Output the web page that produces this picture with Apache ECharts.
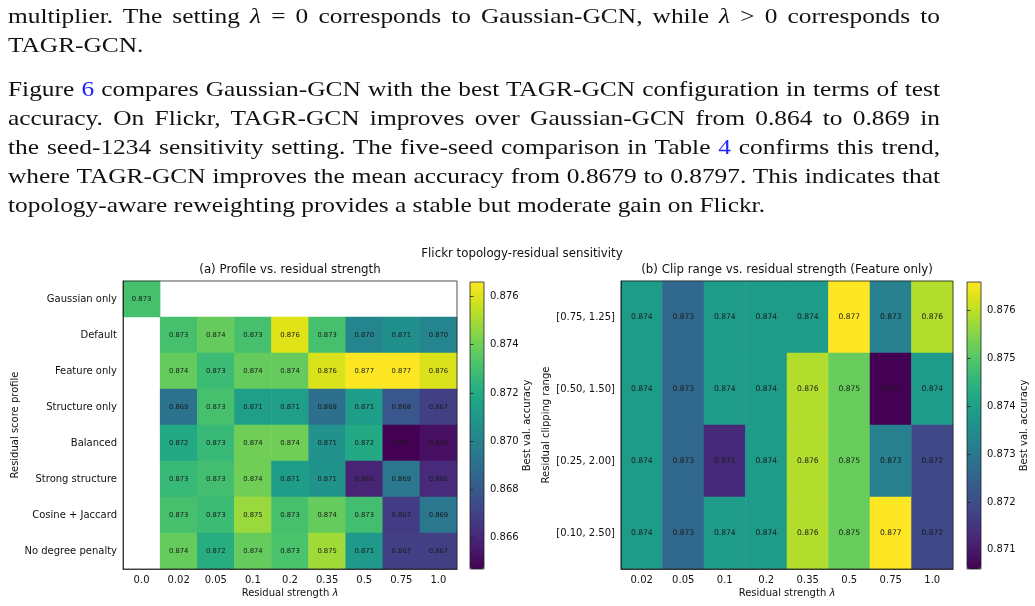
<!DOCTYPE html>
<html>
<head>
<meta charset="utf-8">
<script src="https://cdn.jsdelivr.net/npm/echarts@6/dist/echarts.min.js"></script>
<style>
  html, body { margin: 0; padding: 0; background: #fff; }
  #chart { position: absolute; left: 0; top: 0; width: 1035px; height: 606px; }
  #text { position: absolute; left: 8px; top: 0; width: 932px; z-index: 2;
          font-family: "Liberation Serif", serif; font-size: 21.5px; color: #111; }
  #text .ln { position: absolute; left: 0; width: 932px; height: 29px; line-height: 29px;
              white-space: nowrap; transform-origin: 0 0; }
  #text .j { text-align: justify; text-align-last: justify; white-space: normal; }
  #text .ref { color: #2222ff; }
</style>
</head>
<body>
<div id="chart"></div>
<div id="text">
  <div class="ln j" style="top:1.5px">multiplier. The setting <i>λ</i> = 0 corresponds to Gaussian-GCN, while <i>λ</i> &gt; 0 corresponds to</div>
  <div class="ln" style="top:30.5px">TAGR-GCN.</div>
  <div class="ln j" style="top:74.5px">Figure <span class="ref">6</span> compares Gaussian-GCN with the best TAGR-GCN configuration in terms of test</div>
  <div class="ln j" style="top:103.5px">accuracy. On Flickr, TAGR-GCN improves over Gaussian-GCN from 0.864 to 0.869 in</div>
  <div class="ln j" style="top:132.5px">the seed-1234 sensitivity setting. The five-seed comparison in Table <span class="ref">4</span> confirms this trend,</div>
  <div class="ln j" style="top:161.5px">where TAGR-GCN improves the mean accuracy from 0.8679 to 0.8797. This indicates that</div>
  <div class="ln" id="last" style="top:190.5px">topology-aware reweighting provides a stable but moderate gain on Flickr.</div>
</div>
<script>
/* 数据: 残差强度 λ 与各评分方案 */
var lambdas = ['0.0', '0.02', '0.05', '0.1', '0.2', '0.35', '0.5', '0.75', '1.0'];
var profiles = ['Gaussian only', 'Default', 'Feature only', 'Structure only', 'Balanced',
                'Strong structure', 'Cosine + Jaccard', 'No degree penalty'];
var profileAcc = [
    [0.8731, null, null, null, null, null, null, null, null],
    [null, 0.8731, 0.8738, 0.8731, 0.8760, 0.8731, 0.8701, 0.8706, 0.8701],
    [null, 0.8738, 0.8728, 0.8738, 0.8738, 0.8759, 0.8766, 0.8766, 0.8759],
    [null, 0.8692, 0.8731, 0.8714, 0.8714, 0.8690, 0.8713, 0.8679, 0.8669],
    [null, 0.8719, 0.8727, 0.8740, 0.8740, 0.8707, 0.8719, 0.8647, 0.8652],
    [null, 0.8727, 0.8730, 0.8740, 0.8713, 0.8708, 0.8659, 0.8694, 0.8661],
    [null, 0.8731, 0.8728, 0.8748, 0.8731, 0.8738, 0.8730, 0.8668, 0.8694],
    [null, 0.8738, 0.8721, 0.8738, 0.8732, 0.8749, 0.8711, 0.8669, 0.8669]
];
var clipLambdas = ['0.02', '0.05', '0.1', '0.2', '0.35', '0.5', '0.75', '1.0'];
var clipRanges = ['[0.75, 1.25]', '[0.50, 1.50]', '[0.25, 2.00]', '[0.10, 2.50]'];
var clipAcc = [
    [0.8739, 0.8726, 0.8739, 0.8739, 0.8739, 0.8766, 0.8732, 0.8759],
    [0.8739, 0.8726, 0.8739, 0.8739, 0.8759, 0.8752, 0.8706, 0.8739],
    [0.8739, 0.8726, 0.8713, 0.8739, 0.8759, 0.8752, 0.8732, 0.8719],
    [0.8739, 0.8726, 0.8739, 0.8739, 0.8759, 0.8752, 0.8766, 0.8719]
];
var rangeA = [0.8647, 0.8766];
var rangeB = [0.8706, 0.8766];
var ticksA = [0.866, 0.868, 0.870, 0.872, 0.874, 0.876];
var ticksB = [0.871, 0.872, 0.873, 0.874, 0.875, 0.876];

var viridis = ['#440154', '#471365', '#482475', '#463480', '#414487', '#3b528b', '#355f8d',
    '#2f6c8e', '#2a788e', '#25848e', '#21918c', '#1e9c89', '#22a884', '#2fb47c', '#44bf70',
    '#5ec962', '#7ad151', '#9bd93c', '#bddf26', '#dfe318', '#fde725'];

var toCells = function (rows) {
    var out = [];
    rows.forEach(function (row, i) {
        row.forEach(function (v, j) {
            if (v !== null) out.push([j, i, v]);
        });
    });
    return out;
};

// 正文字体比参考图窄: 按最后一行 (约 757px) 横向拉伸
(function () {
    var last = document.getElementById('last');
    var r = document.createRange();
    r.selectNodeContents(last);
    var w = r.getBoundingClientRect().width;
    var s = 757 / w;
    var lines = document.querySelectorAll('#text .ln');
    for (var i = 0; i < lines.length; i++) {
        lines[i].style.width = (932 / s).toFixed(2) + 'px';
        lines[i].style.transform = 'scaleX(' + s.toFixed(4) + ')';
    }
})();

var font = 'DejaVu Sans';
var ink = '#111';
var tickStyle = { fontFamily: font, fontSize: 10, color: ink };
var titleStyle = { fontFamily: font, fontSize: 11.8, fontWeight: 'normal', color: ink };

var catX = function (gi, data, nameGap) {
    return {
        type: 'category', gridIndex: gi, data: data, z: 5,
        axisLine: { lineStyle: { color: '#222', width: 0.8 } },
        axisTick: { alignWithLabel: true, length: 3.5, lineStyle: { color: '#222', width: 0.8 } },
        axisLabel: Object.assign({ margin: 6, interval: 0 }, tickStyle),
        splitLine: { show: false },
        name: 'Residual strength {i|λ}', nameLocation: 'middle', nameGap: nameGap,
        nameTextStyle: { fontFamily: font, fontSize: 10, color: ink,
            rich: { i: { fontFamily: font, fontSize: 10, color: ink, fontStyle: 'italic' } } }
    };
};
var catY = function (gi, data, name, nameGap) {
    return {
        type: 'category', gridIndex: gi, data: data, inverse: true, z: 5,
        axisLine: { lineStyle: { color: '#222', width: 0.8 } },
        axisTick: { alignWithLabel: true, length: 3.5, lineStyle: { color: '#222', width: 0.8 } },
        axisLabel: Object.assign({ margin: 6, interval: 0 }, tickStyle),
        splitLine: { show: false },
        name: name, nameLocation: 'middle', nameGap: nameGap,
        nameTextStyle: { fontFamily: font, fontSize: 10, color: ink }
    };
};
var barY = function (gi, range, ticks) {
    return {
        type: 'value', gridIndex: gi, position: 'right', min: range[0], max: range[1], z: 6,
        axisLine: { show: false },
        axisTick: { show: true, length: 3.5, customValues: ticks, lineStyle: { color: '#222', width: 0.8 } },
        axisLabel: Object.assign({ margin: 6, customValues: ticks,
            formatter: function (v) { return v.toFixed(3); } }, tickStyle),
        splitLine: { show: false },
        name: 'Best val. accuracy', nameLocation: 'middle', nameGap: 38,
        nameTextStyle: { fontFamily: font, fontSize: 10, color: ink }
    };
};
var gridBox = function (l, t, w, h) {
    return { left: l, top: t, width: w, height: h, show: true, z: 5,
             backgroundColor: 'transparent', borderColor: '#222', borderWidth: 0.8 };
};
var cellSeries = function (idx, data, fs) {
    return {
        type: 'heatmap', xAxisIndex: idx, yAxisIndex: idx, data: data,
        label: { show: true, fontFamily: font, fontSize: fs, color: '#1a1a1a',
            formatter: function (p) { return p.value[2].toFixed(3); } },
        emphasis: { disabled: true },
        itemStyle: { borderWidth: 0 }
    };
};

var myChart = echarts.init(document.getElementById('chart'));
var option = {
    animation: false,
    backgroundColor: 'transparent',
    title: [
        { text: 'Flickr topology-residual sensitivity', left: 522, top: 248, textAlign: 'center', padding: 0,
          textStyle: titleStyle },
        { text: '(a) Profile vs. residual strength', left: 290, top: 264, textAlign: 'center', padding: 0,
          textStyle: titleStyle },
        { text: '(b) Clip range vs. residual strength (Feature only)', left: 787, top: 264, textAlign: 'center', padding: 0,
          textStyle: titleStyle }
    ],
    grid: [
        gridBox(123, 281, 334, 288),
        gridBox(621, 281, 332, 288),
        gridBox(470, 282, 14, 287),
        gridBox(967, 282, 14, 287)
    ],
    xAxis: [
        catX(0, lambdas, 19),
        catX(1, clipLambdas, 19),
        { type: 'value', gridIndex: 2, show: false },
        { type: 'value', gridIndex: 3, show: false }
    ],
    yAxis: [
        catY(0, profiles, 'Residual score profile', 97),
        catY(1, clipRanges, 'Residual clipping range', 70),
        barY(2, rangeA, ticksA),
        barY(3, rangeB, ticksB)
    ],
    visualMap: [
        { type: 'continuous', seriesIndex: 0, min: rangeA[0], max: rangeA[1], calculable: false,
          orient: 'vertical', left: 470, top: 282, itemWidth: 14, itemHeight: 287, padding: 0,
          text: null, inRange: { color: viridis } },
        { type: 'continuous', seriesIndex: 1, min: rangeB[0], max: rangeB[1], calculable: false,
          orient: 'vertical', left: 967, top: 282, itemWidth: 14, itemHeight: 287, padding: 0,
          text: null, inRange: { color: viridis } }
    ],
    series: [
        cellSeries(0, toCells(profileAcc), 6.8),
        cellSeries(1, toCells(clipAcc), 7.6)
    ]
};
myChart.setOption(option);
</script>
</body>
</html>
